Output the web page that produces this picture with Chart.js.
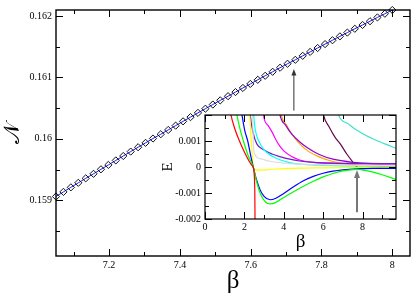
<!DOCTYPE html>
<html>
<head>
<meta charset="utf-8">
<script src="https://cdn.jsdelivr.net/npm/chart.js@4.4.0/dist/chart.umd.min.js"></script>
<style>
  html, body { margin: 0; padding: 0; background: #fff; }
  #caja { position: relative; width: 415px; height: 301px; }
  #principal { position: absolute; left: 0; top: 0; }
  #recuadro { position: absolute; left: 155px; top: 105px; }
</style>
</head>
<body>
<div id="caja">
  <canvas id="principal" width="415" height="301" style="width:415px;height:301px"></canvas>
  <canvas id="recuadro" width="245" height="150" style="width:245px;height:150px"></canvas>
</div>
<script>
// Curva principal: N en funcion de beta
const betaPrincipal = [7.050, 7.071, 7.092, 7.113, 7.134, 7.156, 7.177, 7.198, 7.219, 7.240,
  7.261, 7.282, 7.303, 7.324, 7.346, 7.367, 7.388, 7.409, 7.430, 7.451,
  7.472, 7.493, 7.514, 7.536, 7.557, 7.578, 7.599, 7.620, 7.641, 7.662,
  7.683, 7.704, 7.726, 7.747, 7.768, 7.789, 7.810, 7.831, 7.852, 7.873,
  7.894, 7.916, 7.937, 7.958, 7.979, 8.000];
const nPrincipal = [0.159060, 0.159135, 0.159209, 0.159283, 0.159356, 0.159430, 0.159503, 0.159575, 0.159648, 0.159720,
  0.159792, 0.159863, 0.159934, 0.160005, 0.160075, 0.160145, 0.160215, 0.160285, 0.160354, 0.160423,
  0.160491, 0.160559, 0.160627, 0.160695, 0.160762, 0.160829, 0.160895, 0.160962, 0.161028, 0.161093,
  0.161159, 0.161224, 0.161288, 0.161353, 0.161417, 0.161480, 0.161544, 0.161607, 0.161670, 0.161732,
  0.161794, 0.161856, 0.161917, 0.161979, 0.162039, 0.162100];

// marcas de los ejes principales
const xPrincipalMayor = [7.2, 7.4, 7.6, 7.8, 8.0];
const xPrincipalMenor = [7.1, 7.3, 7.5, 7.7, 7.9];
const yPrincipalMayor = [0.159, 0.160, 0.161, 0.162];
const yPrincipalMenor = [0.1585, 0.1595, 0.1605, 0.1615];
// flecha del grafico principal: [beta, desde, hasta]
const flechaPrincipal = [7.722, 0.16046, 0.16114];

// Recuadro: E en funcion de beta, una curva por color
const rojoX = [1.2, 1.32, 1.5, 1.75, 2.0, 2.2, 2.38, 2.44, 2.5, 2.53, 2.545];
const rojoY = [0.0026, 0.002, 0.0015, 0.001, 0.00058, 0.00028, 0.00006, 0.00001, -0.0003, -0.001, -0.0025];
const verdeX = [1.5, 1.62, 1.8, 1.95, 2.2, 2.45, 2.6, 2.8, 3.0, 3.3, 3.6, 4.0, 4.5, 5.0, 5.5, 6.0, 6.5, 7.0, 7.7, 8.2, 9.0, 9.7];
const verdeY = [0.0026, 0.002, 0.0014, 0.001, 0.00042, 0, -0.0005, -0.001, -0.00128, -0.00142, -0.00136, -0.00117, -0.00095, -0.00074, -0.00055, -0.00038, -0.00025, -0.00015, -0.00009, -0.00014, -0.0003, -0.00048];
const azulX = [1.78, 1.88, 2.02, 2.17, 2.35, 2.45, 2.6, 2.8, 3.0, 3.3, 3.6, 4.0, 4.5, 5.0, 5.5, 6.0, 6.5, 7.0, 7.7, 8.5, 9.7];
const azulY = [0.0026, 0.002, 0.0014, 0.001, 0.00033, 0, -0.00045, -0.00088, -0.00113, -0.00126, -0.0012, -0.00102, -0.00076, -0.00053, -0.00036, -0.00024, -0.00016, -0.00011, -0.00007, -0.00005, -0.00005];
const amarilloX = [2.22, 2.27, 2.33, 2.4, 2.45, 2.55, 2.8, 3.2, 4.0, 6.0, 9.7];
const amarilloY = [0.0026, 0.002, 0.0012, 0.00045, 0, -0.0001, -0.00012, -0.0001, -0.00006, -0.00003, -0.00001];
const grisX = [2.4, 2.42, 2.45, 2.52, 2.8, 3.3, 4.0, 5.0, 9.7];
const grisY = [0.0026, 0.002, 0.001, 0.0005, 0.00032, 0.00022, 0.00015, 0.0001, 0.00006];
const cianX = [2.43, 2.47, 2.55, 2.7, 3.0, 3.4, 3.8, 4.3, 5.0, 6.0, 9.7];
const cianY = [0.0026, 0.002, 0.00145, 0.00105, 0.00066, 0.00042, 0.00028, 0.00017, 0.0001, 0.00006, 0.00003];
const indigoX = [2.25, 2.3, 2.45, 2.63, 3.0, 3.4, 3.8, 4.3, 4.8, 5.5, 6.5, 8.0, 9.7];
const indigoY = [0.0026, 0.002, 0.0013, 0.00089, 0.00065, 0.0005, 0.0004, 0.0003, 0.00023, 0.00018, 0.00015, 0.00014, 0.00013];
const magentaX = [2.92, 2.97, 3.2, 3.4, 3.6, 3.8, 4.0, 4.4, 4.8, 5.5, 6.5, 7.7, 9.7];
const magentaY = [0.0026, 0.002, 0.0016, 0.00135, 0.00105, 0.0008, 0.00062, 0.0004, 0.00027, 0.00018, 0.00014, 0.00012, 0.00011];
const violetaX = [3.7, 3.81, 4.1, 4.4, 4.8, 5.2, 5.8, 6.5, 7.5, 8.5, 9.7];
const violetaY = [0.0026, 0.002, 0.0016, 0.00127, 0.00097, 0.00074, 0.00048, 0.0003, 0.00018, 0.00013, 0.00012];
const naranjaX = [3.75, 3.87, 4.15, 4.45, 4.8, 5.2, 5.8, 6.5, 7.5, 8.5, 9.7];
const naranjaY = [0.0026, 0.002, 0.0016, 0.00122, 0.0009, 0.00063, 0.00039, 0.00021, 0.00009, 0.00004, 0.00002];
const granateX = [5.9, 6.02, 6.3, 6.6, 6.87, 7.2, 7.5, 7.72, 8.0, 8.5, 9.0, 9.7];
const granateY = [0.0026, 0.002, 0.00155, 0.00115, 0.00089, 0.0005, 0.0002, 0.0, -0.00006, -0.00003, 0.0, 0.00003];
const turquesaX = [6.6, 6.78, 7.3, 7.7, 8.2, 8.6, 9.2, 9.7];
const turquesaY = [0.0026, 0.002, 0.00165, 0.00142, 0.0012, 0.00106, 0.00087, 0.00072];

const xRecuadroMayor = [0, 2, 4, 6, 8];
const xRecuadroMenor = [1, 3, 5, 7, 9];
const yRecuadroMayor = [-0.002, -0.001, 0, 0.001, 0.002];
const yRecuadroMenor = [-0.0015, -0.0005, 0.0005, 0.0015];
const yRecuadroEtiquetas = [-0.002, -0.001, 0, 0.001];
// flecha del recuadro: [beta, desde, hasta]
const flechaRecuadro = [7.72, -0.00174, -0.00012];

const puntos = (xs, ys) => xs.map((v, i) => ({ x: v, y: ys[i] }));

// dibuja marcas hacia adentro, el marco y la flecha
const marcas = {
  id: 'marcas',
  afterDraw(chart, args, o) {
    const { ctx, chartArea: a, scales: { x, y } } = chart;
    ctx.save();
    ctx.strokeStyle = '#000';
    ctx.lineWidth = 1;
    const linea = (x1, y1, x2, y2) => { ctx.beginPath(); ctx.moveTo(x1, y1); ctx.lineTo(x2, y2); ctx.stroke(); };
    const marcaX = (v, l) => { const p = Math.round(x.getPixelForValue(v)) + 0.5; linea(p, a.bottom, p, a.bottom - l); linea(p, a.top, p, a.top + l); };
    const marcaY = (v, l) => { const p = Math.round(y.getPixelForValue(v)) + 0.5; linea(a.left, p, a.left + l, p); linea(a.right, p, a.right - l, p); };
    o.xMayor.forEach(v => marcaX(v, 7));
    o.xMenor.forEach(v => marcaX(v, 4));
    o.yMayor.forEach(v => marcaY(v, 7));
    o.yMenor.forEach(v => marcaY(v, 4));
    ctx.lineWidth = o.marco;
    ctx.strokeRect(a.left, a.top, a.width, a.height);

    // flecha
    const f = o.flecha;
    const fx = x.getPixelForValue(f[0]);
    const y1 = y.getPixelForValue(f[1]);
    const y2 = y.getPixelForValue(f[2]);
    ctx.strokeStyle = o.colorFlecha;
    ctx.fillStyle = o.colorFlecha;
    ctx.lineWidth = o.anchoFlecha;
    linea(fx, y1, fx, y2 + o.punta);
    ctx.beginPath();
    ctx.moveTo(fx, y2);
    ctx.lineTo(fx - o.punta / 2, y2 + o.punta * 1.3);
    ctx.lineTo(fx + o.punta / 2, y2 + o.punta * 1.3);
    ctx.closePath();
    ctx.fill();
    ctx.restore();
  }
};

const fuenteTicks = { family: 'Liberation Serif', size: 10 };

// Grafico principal
new Chart(document.getElementById('principal'), {
  type: 'line',
  data: {
    datasets: [{
      data: puntos(betaPrincipal, nPrincipal),
      borderColor: '#1a1aff',
      borderWidth: 1,
      pointStyle: 'rectRot',
      pointRadius: 3.6,
      pointBorderColor: '#111',
      pointBorderWidth: 1,
      pointBackgroundColor: 'rgba(0,0,0,0)',
      tension: 0,
      clip: false
    }]
  },
  options: {
    responsive: false,
    animation: false,
    devicePixelRatio: 1,
    layout: { padding: { top: 5, right: 2, left: 0, bottom: 0 } },
    plugins: {
      legend: { display: false },
      tooltip: { enabled: false },
      marcas: {
        xMayor: xPrincipalMayor, xMenor: xPrincipalMenor,
        yMayor: yPrincipalMayor, yMenor: yPrincipalMenor,
        marco: 1.4, flecha: flechaPrincipal, colorFlecha: '#333', anchoFlecha: 1, punta: 5
      }
    },
    scales: {
      x: {
        type: 'linear', min: 7.05, max: 8.05,
        afterBuildTicks: s => { s.ticks = xPrincipalMayor.map(v => ({ value: v })); },
        afterFit: s => { s.height = 45; },
        grid: { display: false, drawTicks: false },
        border: { display: false },
        ticks: { padding: 3, color: '#000', font: fuenteTicks, maxRotation: 0, autoSkip: false, callback: v => String(+v.toFixed(1)) },
        title: { display: true, text: 'β', color: '#000', font: { family: 'Liberation Serif', size: 25 }, padding: { top: 0, bottom: 5 } }
      },
      y: {
        type: 'linear', min: 0.15809, max: 0.1621,
        afterBuildTicks: s => { s.ticks = yPrincipalMayor.map(v => ({ value: v })); },
        afterFit: s => { s.width = 56; },
        grid: { display: false, drawTicks: false },
        border: { display: false },
        ticks: { padding: 4, color: '#000', font: fuenteTicks, autoSkip: false, callback: v => String(+v.toFixed(3)) },
        title: { display: true, text: '𝒩', color: '#000', font: { family: 'DejaVu Serif', size: 22 }, padding: { top: 0, bottom: 0 } }
      }
    }
  },
  plugins: [marcas]
});

// Recuadro
const curvas = [
  [rojoX, rojoY, '#ff0000'],
  [verdeX, verdeY, '#00ff00'],
  [azulX, azulY, '#0000ff'],
  [amarilloX, amarilloY, '#ffff00'],
  [grisX, grisY, '#dcdcdc'],
  [cianX, cianY, '#00ffff'],
  [indigoX, indigoY, '#7221bc'],
  [magentaX, magentaY, '#ff00ff'],
  [violetaX, violetaY, '#9400d3'],
  [naranjaX, naranjaY, '#ffa500'],
  [granateX, granateY, '#670748'],
  [turquesaX, turquesaY, '#40e0d0']
];

const fondoBlanco = {
  id: 'fondoBlanco',
  beforeDatasetsDraw(chart) {
    const { ctx, chartArea: a } = chart;
    ctx.save();
    ctx.fillStyle = '#fff';
    ctx.fillRect(a.left, a.top, a.width, a.height);
    ctx.restore();
  }
};

new Chart(document.getElementById('recuadro'), {
  type: 'line',
  data: {
    datasets: curvas.map(c => ({
      data: puntos(c[0], c[1]),
      borderColor: c[2],
      borderWidth: 1.2,
      pointRadius: 0,
      cubicInterpolationMode: 'monotone'
    }))
  },
  options: {
    responsive: false,
    animation: false,
    devicePixelRatio: 1,
    layout: { padding: { top: 7, right: 4, left: 0, bottom: 0 } },
    plugins: {
      legend: { display: false },
      tooltip: { enabled: false },
      marcas: {
        xMayor: xRecuadroMayor, xMenor: xRecuadroMenor,
        yMayor: yRecuadroMayor, yMenor: yRecuadroMenor,
        marco: 1.2, flecha: flechaRecuadro, colorFlecha: '#777', anchoFlecha: 2, punta: 6
      }
    },
    scales: {
      x: {
        type: 'linear', min: 0, max: 9.7,
        afterBuildTicks: s => { s.ticks = xRecuadroMayor.map(v => ({ value: v })); },
        afterFit: s => { s.height = 36; },
        grid: { display: false, drawTicks: false },
        border: { display: false },
        ticks: { padding: 2, color: '#000', font: fuenteTicks, maxRotation: 0, autoSkip: false, callback: v => String(v) },
        title: { display: true, text: 'β', color: '#000', font: { family: 'Liberation Serif', size: 19 }, padding: { top: 0, bottom: 2 } }
      },
      y: {
        type: 'linear', min: -0.002, max: 0.002,
        afterBuildTicks: s => { s.ticks = yRecuadroEtiquetas.map(v => ({ value: v })); },
        afterFit: s => { s.width = 50; },
        grid: { display: false, drawTicks: false },
        border: { display: false },
        ticks: { padding: 4, color: '#000', font: fuenteTicks, autoSkip: false, callback: v => String(+v.toFixed(3)) },
        title: { display: true, text: 'E', color: '#000', font: { family: 'Liberation Serif', size: 15 }, padding: { top: 4, bottom: 0 } }
      }
    }
  },
  plugins: [fondoBlanco, marcas]
});
</script>
</body>
</html>
